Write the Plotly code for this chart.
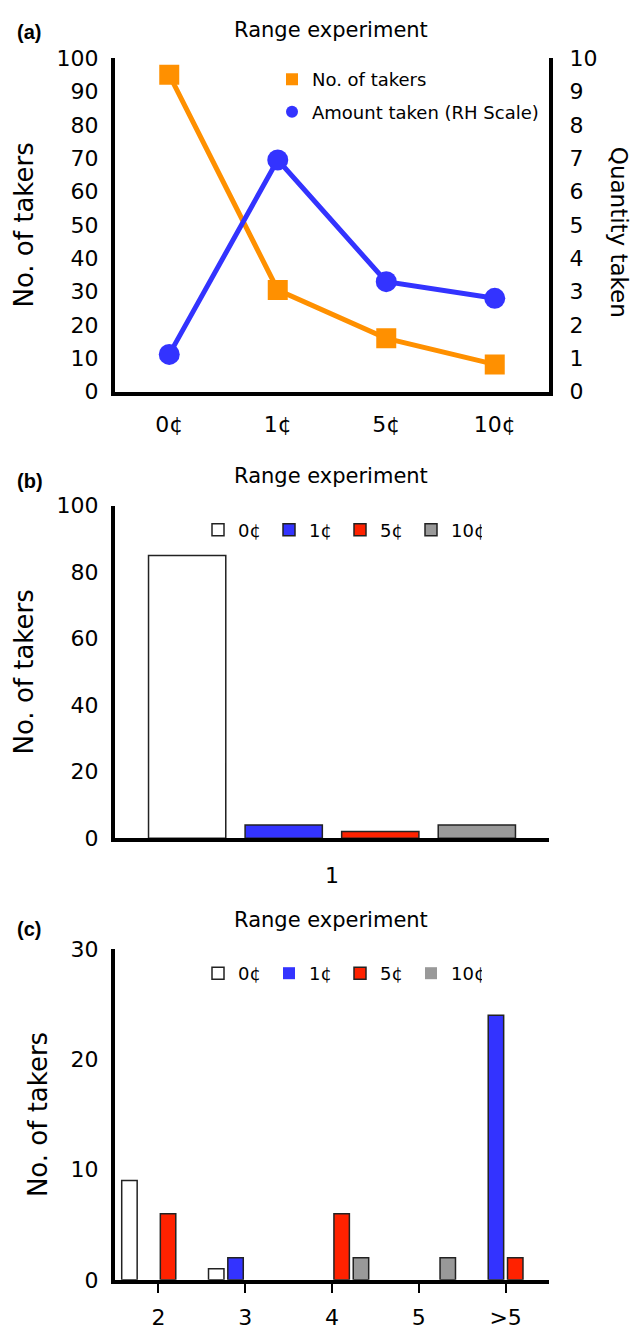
import plotly.graph_objects as go

# ---------------- data ----------------
price_labels = ["0¢", "1¢", "5¢", "10¢"]
takers_a = [95, 30.5, 16, 8.2]        # No. of takers (left scale)
amount_a = [1.12, 6.95, 3.3, 2.8]     # Amount taken (right scale)

b_categories = ["1"]
b_0 = [85]
b_1 = [4]
b_5 = [2]
b_10 = [4]

c_categories = ["2", "3", "4", "5", ">5"]
c_0 = [9, 1, 0, 0, 0]
c_1 = [0, 2, 0, 0, 24]
c_5 = [6, 0, 6, 0, 2]
c_10 = [0, 0, 2, 2, 0]

series_names = ["0¢", "1¢", "5¢", "10¢"]
bar_colors = ["#FFFFFF", "#3333FF", "#FF2200", "#999999"]

FONT = "DejaVu Sans"
W, H = 640, 1335

def px_x(p):
    return p / W

def px_y(p):
    return 1 - p / H

fig = go.Figure()

# ---------------- panel (a) ----------------
fig.add_trace(go.Scatter(x=price_labels, y=takers_a, mode="lines",
                         line=dict(color="#FF9000", width=5),
                         xaxis="x", yaxis="y", showlegend=False, hoverinfo="skip"))
fig.add_trace(go.Scatter(x=price_labels, y=takers_a, mode="markers",
                         marker=dict(symbol="square", size=20, color="#FF9000"),
                         name="No. of takers", xaxis="x", yaxis="y",
                         legend="legend", legendgroup="a1"))
fig.add_trace(go.Scatter(x=price_labels, y=amount_a, mode="lines",
                         line=dict(color="#3333FF", width=5),
                         xaxis="x", yaxis="y4", showlegend=False, hoverinfo="skip"))
fig.add_trace(go.Scatter(x=price_labels, y=amount_a, mode="markers",
                         marker=dict(symbol="circle", size=21, color="#3333FF"),
                         name="Amount taken (RH Scale)", xaxis="x", yaxis="y4",
                         legend="legend", legendgroup="a2"))

def outline(vals):
    return [1.5 if v > 0 else 0 for v in vals]

# ---------------- panel (b) ----------------
for name, vals, col in zip(series_names, [b_0, b_1, b_5, b_10], bar_colors):
    fig.add_trace(go.Bar(x=b_categories, y=vals, name=name,
                         marker=dict(color=col, line=dict(color="#222222", width=outline(vals))),
                         xaxis="x2", yaxis="y2", legend="legend2"))

# ---------------- panel (c) ----------------
for name, vals, col in zip(series_names, [c_0, c_1, c_5, c_10], bar_colors):
    fig.add_trace(go.Bar(x=c_categories, y=vals, name=name,
                         marker=dict(color=col, line=dict(color="#222222", width=outline(vals))),
                         xaxis="x3", yaxis="y3", legend="legend3"))

xdom = [px_x(115), px_x(549)]
tickfont = dict(family=FONT, size=22, color="black")
titlefont = dict(family=FONT, size=26, color="black")

common_x = dict(type="category", showline=True, linewidth=4, linecolor="black",
                showgrid=False, zeroline=False, tickfont=tickfont, domain=xdom)
common_y = dict(showline=True, linewidth=4, linecolor="black", showgrid=False,
                zeroline=False, tickfont=tickfont, ticks="", ticklabelstandoff=8)

fig.update_layout(
    width=W, height=H,
    margin=dict(l=0, r=0, t=0, b=0),
    paper_bgcolor="white", plot_bgcolor="white",
    barmode="group", bargap=0.11, bargroupgap=0.2,
    font=dict(family=FONT, color="black"),
    xaxis=dict(common_x, anchor="y", range=[-0.5, 3.5], ticks="", ticklabelstandoff=10),
    yaxis=dict(common_y, anchor="x", domain=[px_y(387), px_y(47)], range=[0, 100], dtick=10,
               title=dict(text="No. of takers", font=titlefont, standoff=16)),
    yaxis4=dict(common_y, anchor="x", overlaying="y", side="right", range=[0, 10], dtick=1,
                ticklabelstandoff=12),
    xaxis2=dict(common_x, anchor="y2", range=[-0.5, 0.5], ticks="", ticklabelstandoff=14),
    yaxis2=dict(common_y, anchor="x2", domain=[px_y(842), px_y(503)], range=[0, 100], dtick=20,
                title=dict(text="No. of takers", font=titlefont, standoff=16)),
    xaxis3=dict(common_x, anchor="y3", range=[-0.5, 4.5], ticks="outside", ticklen=9,
                tickwidth=1.5, tickcolor="black", ticklabelstandoff=6),
    yaxis3=dict(common_y, anchor="x3", domain=[px_y(1292), px_y(955)], range=[0, 30], dtick=10,
                title=dict(text="No. of takers", font=titlefont, standoff=16)),
    legend=dict(x=px_x(272), y=px_y(50), xanchor="left", yanchor="top",
                bgcolor="rgba(0,0,0,0)", font=dict(family=FONT, size=18),
                itemsizing="constant", tracegroupgap=6, traceorder="grouped"),
    legend2=dict(orientation="h", x=px_x(198), y=px_y(509), xanchor="left", yanchor="top",
                 bgcolor="rgba(0,0,0,0)", font=dict(family=FONT, size=18),
                 entrywidth=26, entrywidthmode="pixels"),
    legend3=dict(orientation="h", x=px_x(198), y=px_y(961), xanchor="left", yanchor="top",
                 bgcolor="rgba(0,0,0,0)", font=dict(family=FONT, size=18),
                 entrywidth=26, entrywidthmode="pixels"),
)

annotations = []
for label, ypix_title, ypix_lab in [("(a)", 18, 20), ("(b)", 473, 478), ("(c)", 925, 935)]:
    annotations.append(dict(text="Range experiment", x=px_x(331), y=px_y(ypix_title),
                            xref="paper", yref="paper", xanchor="center", yanchor="middle",
                            showarrow=False,
                            font=dict(family=FONT, size=21, color="black")))
    annotations.append(dict(text="<b>" + label + "</b>", x=px_x(15), y=px_y(ypix_lab),
                            xref="paper", yref="paper", xanchor="left", yanchor="middle",
                            showarrow=False,
                            font=dict(family="Liberation Sans", size=20, color="black")))
annotations.append(dict(text="Quantity taken", x=px_x(619), y=px_y(224), xref="paper",
                        yref="paper", xanchor="center", yanchor="middle",
                        showarrow=False, textangle=90,
                        font=dict(family=FONT, size=23, color="black")))
fig.update_layout(annotations=annotations)

fig.write_html("out.html")
